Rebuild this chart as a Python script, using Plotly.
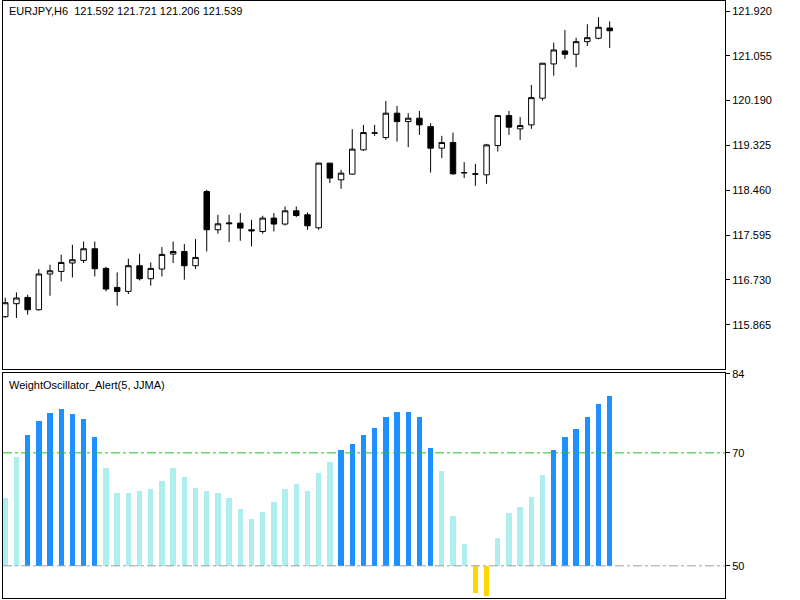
import plotly.graph_objs as go
from plotly.subplots import make_subplots

# EURJPY H6 candles
opens = [116.020, 116.271, 116.392, 116.155, 116.844, 116.894, 117.056, 117.106, 117.331, 116.952,
         116.585, 116.508, 117.004, 116.753, 116.940, 117.229, 117.279, 117.004, 118.436, 117.698,
         117.813, 117.827, 117.698, 117.665, 117.923, 117.808, 118.064, 117.987, 117.736, 118.984,
         118.662, 118.772, 119.240, 119.562, 119.477, 119.948, 119.786, 119.851, 119.689, 119.273,
         119.381, 118.802, 118.777, 118.758, 119.323, 119.901, 119.645, 119.722, 120.237, 120.898,
         121.149, 121.085, 121.328, 121.394, 121.592]
highs = [116.387, 116.489, 116.444, 116.940, 117.023, 117.216, 117.408, 117.472, 117.472, 116.984,
         116.874, 117.139, 117.235, 117.067, 117.364, 117.472, 117.422, 117.518, 118.469, 117.987,
         117.987, 118.020, 117.890, 117.968, 118.020, 118.147, 118.147, 118.031, 118.990, 118.990,
         118.854, 119.639, 119.722, 119.722, 120.185, 120.088, 119.948, 119.992, 119.755, 119.510,
         119.574, 119.003, 118.970, 119.356, 119.915, 119.992, 119.871, 120.493, 120.917, 121.309,
         121.554, 121.405, 121.664, 121.799, 121.721]
lows = [116.001, 115.995, 116.059, 116.136, 116.425, 116.701, 116.778, 117.056, 116.797, 116.508,
        116.232, 116.458, 116.720, 116.618, 116.797, 117.056, 116.734, 116.940, 117.279, 117.621,
        117.461, 117.486, 117.376, 117.621, 117.665, 117.781, 117.943, 117.698, 117.698, 118.598,
        118.488, 118.758, 119.221, 119.510, 119.433, 119.400, 119.292, 119.529, 118.802, 119.080,
        118.758, 118.695, 118.546, 118.585, 119.207, 119.529, 119.433, 119.645, 120.191, 120.673,
        120.995, 120.835, 121.245, 121.374, 121.206]
closes = [116.290, 116.381, 116.155, 116.844, 116.907, 117.067, 117.119, 117.331, 116.946, 116.554,
          116.508, 117.004, 116.753, 116.952, 117.222, 117.279, 117.004, 117.164, 117.698, 117.813,
          117.827, 117.730, 117.678, 117.923, 117.808, 118.064, 117.973, 117.775, 118.984, 118.695,
          118.791, 119.254, 119.574, 119.568, 119.948, 119.786, 119.851, 119.722, 119.273, 119.381,
          118.777, 118.797, 118.772, 119.336, 119.901, 119.678, 119.709, 120.248, 120.912, 121.168,
          121.085, 121.328, 121.405, 121.606, 121.539]

# WeightOscillator_Alert values
osc = [62.1, 69.4, 73.2, 75.7, 77.1, 77.8, 76.9, 76.1, 72.9, 67.3,
       62.9, 62.9, 63.3, 63.6, 65.0, 67.3, 65.7, 63.8, 63.3, 63.0,
       62.0, 60.1, 58.4, 59.6, 61.3, 63.6, 64.5, 63.3, 66.5, 68.5,
       70.5, 71.7, 73.2, 74.4, 76.4, 77.3, 77.3, 76.4, 70.9, 66.8,
       58.9, 54.0, 45.3, 44.7, 55.0, 59.4, 60.4, 62.3, 66.2, 70.5,
       72.9, 74.2, 76.4, 78.7, 80.1]

price_ticks = [115.865, 116.730, 117.595, 118.460, 119.325, 120.190, 121.055, 121.920]
osc_ticks = [50, 70, 84]

idx = list(range(len(opens)))
colors = []
for v in osc:
    if v > 70:
        colors.append('#1E90FF')
    elif v < 50:
        colors.append('#FFD700')
    else:
        colors.append('#AFEEEE')

fig = make_subplots(rows=2, cols=1, shared_xaxes=True, vertical_spacing=0.0068,
                    row_heights=[0.62, 0.38])

fig.add_trace(go.Candlestick(x=idx, open=opens, high=highs, low=lows, close=closes,
                             increasing=dict(fillcolor='white', line=dict(color='black', width=1)),
                             decreasing=dict(fillcolor='black', line=dict(color='black', width=1)),
                             whiskerwidth=0, showlegend=False, hoverinfo='skip'),
              row=1, col=1)

fig.add_trace(go.Bar(x=idx, y=[v - 50 for v in osc], base=50, marker_color=colors,
                     marker_line_width=0, width=0.48, showlegend=False),
              row=2, col=1)

fig.add_hline(y=70, line=dict(color='#22C322', dash='dashdot', width=1), row=2, col=1)
fig.add_hline(y=50, line=dict(color='#A0A0A0', dash='dashdot', width=1), row=2, col=1)

axis_style = dict(showgrid=False, zeroline=False, showline=True, linecolor='black',
                  linewidth=1, mirror=True, automargin=False)
fig.update_xaxes(range=[-0.2, 64.3], showticklabels=False, ticks='',
                 rangeslider_visible=False, **axis_style)
fig.update_yaxes(side='right', ticks='outside', ticklen=4, tickcolor='black',
                 tickfont=dict(family='Liberation Sans', size=11, color='black'), **axis_style)
fig.update_yaxes(range=[115.018, 122.113], tickvals=price_ticks,
                 ticktext=['%.3f' % t for t in price_ticks], row=1, col=1)
fig.update_yaxes(range=[44.3, 84.2], tickvals=osc_ticks, row=2, col=1)

fig.update_layout(
    width=800, height=600,
    margin=dict(l=3, r=75, t=1, b=2, autoexpand=False),
    plot_bgcolor='white', paper_bgcolor='white',
    bargap=0,
    font=dict(family='Liberation Sans', size=11, color='black'),
)

fig.add_annotation(text='EURJPY,H6  121.592 121.721 121.206 121.539', xref='paper', yref='paper',
                   x=0.006, y=0.997, xanchor='left', yanchor='top', showarrow=False,
                   font=dict(size=11))
fig.add_annotation(text='WeightOscillator_Alert(5, JJMA)', xref='paper', yref='paper',
                   x=0.006, y=0.37, xanchor='left', yanchor='top', showarrow=False,
                   font=dict(size=11))

# drop the page's default body margin so the figure sits at the window corner
fig.write_html('out.html', config={'displayModeBar': False},
               post_script="document.body.style.margin='0';")
